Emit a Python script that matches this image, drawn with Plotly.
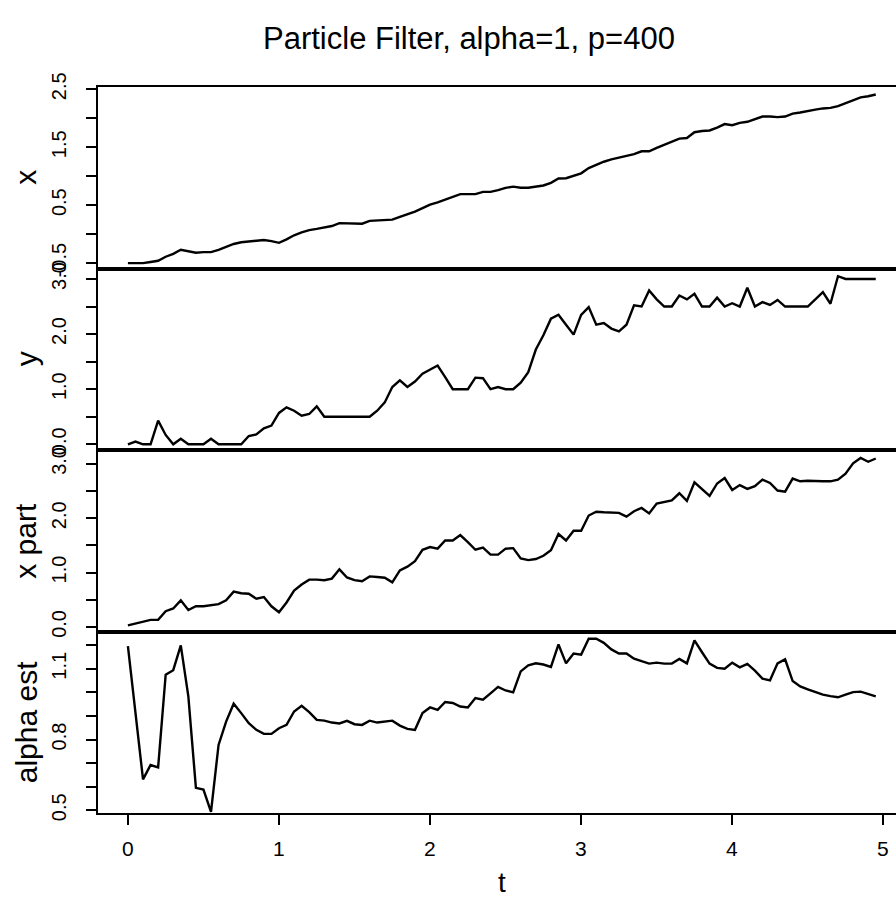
import numpy as np
import plotly.graph_objects as go
from plotly.subplots import make_subplots

# time grid (plot.ts style, 100 regular steps of 0.05)
t = np.round(np.arange(100) * 0.05, 2)

x_true = [-0.50, -0.50, -0.50, -0.48, -0.46, -0.39, -0.34, -0.27, -0.30, -0.32,
          -0.31, -0.31, -0.27, -0.22, -0.17, -0.14, -0.13, -0.11, -0.10, -0.12,
          -0.15, -0.09, -0.02, 0.03, 0.07, 0.09, 0.12, 0.14, 0.19, 0.19,
          0.19, 0.18, 0.23, 0.24, 0.25, 0.25, 0.30, 0.34, 0.39, 0.45,
          0.51, 0.55, 0.60, 0.65, 0.69, 0.69, 0.69, 0.73, 0.73, 0.76,
          0.80, 0.82, 0.80, 0.80, 0.815, 0.84, 0.885, 0.96, 0.965, 1.01,
          1.05, 1.14, 1.20, 1.25, 1.29, 1.32, 1.35, 1.38, 1.43, 1.43,
          1.49, 1.54, 1.59, 1.65, 1.66, 1.76, 1.78, 1.79, 1.84, 1.90,
          1.88, 1.92, 1.94, 1.98, 2.03, 2.03, 2.02, 2.03, 2.08, 2.10,
          2.13, 2.15, 2.17, 2.18, 2.21, 2.26, 2.32, 2.36, 2.38, 2.41]

y_obs = [0.00, 0.05, 0.00, 0.00, 0.43, 0.17, 0.00, 0.10, 0.00, 0.00,
         0.00, 0.10, 0.00, 0.00, 0.00, 0.00, 0.15, 0.18, 0.29, 0.34,
         0.57, 0.67, 0.61, 0.52, 0.55, 0.69, 0.50, 0.50, 0.50, 0.50,
         0.50, 0.50, 0.50, 0.61, 0.76, 1.04, 1.16, 1.04, 1.14, 1.28,
         1.35, 1.43, 1.22, 1.00, 1.00, 1.00, 1.21, 1.20, 1.00, 1.04,
         1.00, 1.00, 1.12, 1.31, 1.72, 1.98, 2.28, 2.35, 2.17, 1.99,
         2.35, 2.49, 2.17, 2.20, 2.10, 2.05, 2.17, 2.52, 2.50, 2.79,
         2.63, 2.50, 2.50, 2.70, 2.63, 2.73, 2.50, 2.50, 2.66, 2.50,
         2.56, 2.50, 2.84, 2.50, 2.58, 2.53, 2.62, 2.50, 2.50, 2.50,
         2.50, 2.63, 2.76, 2.55, 3.05, 3.00, 3.00, 3.00, 3.00, 3.00]

x_part = [0.03, 0.06, 0.10, 0.13, 0.13, 0.29, 0.34, 0.49, 0.31, 0.38,
          0.38, 0.40, 0.42, 0.49, 0.65, 0.62, 0.61, 0.52, 0.55, 0.38,
          0.27, 0.45, 0.67, 0.78, 0.87, 0.87, 0.86, 0.89, 1.06, 0.91,
          0.86, 0.84, 0.93, 0.92, 0.905, 0.82, 1.04, 1.11, 1.21, 1.42,
          1.47, 1.44, 1.59, 1.59, 1.69, 1.56, 1.42, 1.46, 1.33, 1.33,
          1.44, 1.45, 1.26, 1.23, 1.25, 1.31, 1.41, 1.71, 1.59, 1.77,
          1.77, 2.05, 2.12, 2.11, 2.11, 2.10, 2.03, 2.13, 2.19, 2.09,
          2.27, 2.30, 2.33, 2.46, 2.32, 2.66, 2.54, 2.41, 2.64, 2.74,
          2.52, 2.61, 2.54, 2.59, 2.71, 2.65, 2.51, 2.49, 2.73, 2.68,
          2.69, 2.68, 2.68, 2.68, 2.71, 2.82, 3.01, 3.11, 3.04, 3.10]

alpha_est = [1.196, 0.926, 0.631, 0.692, 0.682, 1.075, 1.094, 1.199, 0.983, 0.595,
             0.588, 0.493, 0.777, 0.876, 0.952, 0.912, 0.869, 0.841, 0.824, 0.824,
             0.848, 0.862, 0.919, 0.943, 0.916, 0.883, 0.880, 0.872, 0.868, 0.879,
             0.865, 0.862, 0.880, 0.872, 0.875, 0.880, 0.859, 0.845, 0.841, 0.912,
             0.936, 0.926, 0.959, 0.955, 0.940, 0.936, 0.976, 0.969, 0.996, 1.023,
             1.008, 1.000, 1.089, 1.115, 1.123, 1.118, 1.108, 1.203, 1.123, 1.165,
             1.160, 1.227, 1.227, 1.210, 1.182, 1.165, 1.165, 1.143, 1.132, 1.122,
             1.126, 1.122, 1.122, 1.142, 1.123, 1.220, 1.170, 1.122, 1.104, 1.100,
             1.126, 1.106, 1.121, 1.092, 1.058, 1.051, 1.123, 1.140, 1.048, 1.025,
             1.013, 1.000, 0.990, 0.984, 0.979, 0.990, 1.001, 1.003, 0.994, 0.983]

panel_labels = ["x", "y", "x part", "alpha est"]
series = [x_true, y_obs, x_part, alpha_est]

y_tickvals = [
    [-0.5, 0.0, 0.5, 1.0, 1.5, 2.0, 2.5],
    [0.0, 0.5, 1.0, 1.5, 2.0, 2.5, 3.0],
    [0.0, 0.5, 1.0, 1.5, 2.0, 2.5, 3.0],
    [0.5, 0.6, 0.7, 0.8, 0.9, 1.0, 1.1, 1.2],
]
y_ticktext = [
    ["-0.5", "", "0.5", "", "1.5", "", "2.5"],
    ["0.0", "", "1.0", "", "2.0", "", "3.0"],
    ["0.0", "", "1.0", "", "2.0", "", "3.0"],
    ["0.5", "", "", "0.8", "", "", "1.1", ""],
]
y_ranges = [[-0.593, 2.54], [-0.103, 3.19], [-0.084, 3.256], [0.4885, 1.258]]

x_tickvals = [0, 1, 2, 3, 4, 5]
x_ticktext = ["0", "1", "2", "3", "4", "5"]
x_range = [-0.198, 5.084]

FONT = "Liberation Sans, Arial, Helvetica, sans-serif"

fig = make_subplots(rows=4, cols=1, shared_xaxes=True, vertical_spacing=0)

for k in range(4):
    fig.add_trace(go.Scatter(x=t, y=series[k], mode="lines",
                             line=dict(color="black", width=2.4),
                             showlegend=False, hoverinfo="skip"),
                  row=k + 1, col=1)
    fig.update_yaxes(row=k + 1, col=1, range=y_ranges[k],
                     tickvals=y_tickvals[k], ticktext=y_ticktext[k],
                     tickangle=-90, ticks="outside", ticklen=10, tickwidth=2,
                     tickcolor="black", showline=True, linewidth=2,
                     linecolor="black", mirror=False, showgrid=False,
                     zeroline=False, ticklabelstandoff=12, automargin=False,
                     tickfont=dict(family=FONT, size=20, color="black"))
    fig.update_xaxes(row=k + 1, col=1, range=x_range, showline=True,
                     linewidth=2, linecolor="black", mirror=True,
                     showgrid=False, zeroline=False, automargin=False,
                     tickvals=x_tickvals, showticklabels=False,
                     ticks="outside" if k == 3 else "",
                     ticklen=10, tickwidth=2, tickcolor="black")

annotations = []
L, T, B, H = 98, 87, 84, 897
plot_h = H - T - B

# bottom tick labels, placed on the x scale of the bottom panel
for v, s in zip(x_tickvals, x_ticktext):
    annotations.append(dict(text=s, xref="x4", yref="paper", x=v,
                            y=(H - B - 848) / plot_h, xanchor="center",
                            yanchor="middle", showarrow=False,
                            font=dict(family=FONT, size=21, color="black")))

for k, lab in enumerate(panel_labels):
    yc = 1 - (k + 0.5) / 4
    annotations.append(dict(text=lab, xref="paper", yref="paper",
                            x=(26 - L) / 798, y=yc, xanchor="center",
                            yanchor="middle", textangle=-90, showarrow=False,
                            font=dict(family=FONT, size=30, color="black")))
annotations.append(dict(text="t", xref="paper", yref="paper",
                        x=(502 - L) / 798, y=(H - B - 882) / plot_h,
                        xanchor="center", yanchor="middle", showarrow=False,
                        font=dict(family=FONT, size=28, color="black")))
annotations.append(dict(text="Particle Filter, alpha=1, p=400", xref="paper",
                        yref="paper", x=(469 - L) / 798,
                        y=(H - B - 38) / plot_h, xanchor="center",
                        yanchor="middle", showarrow=False,
                        font=dict(family=FONT, size=31, color="black")))

fig.update_layout(width=896, height=897, template="none",
                  margin=dict(l=L, r=0, t=T, b=B),
                  font=dict(family=FONT, size=20, color="black"),
                  paper_bgcolor="white", plot_bgcolor="white",
                  annotations=annotations)

fig.write_html("out.html")
